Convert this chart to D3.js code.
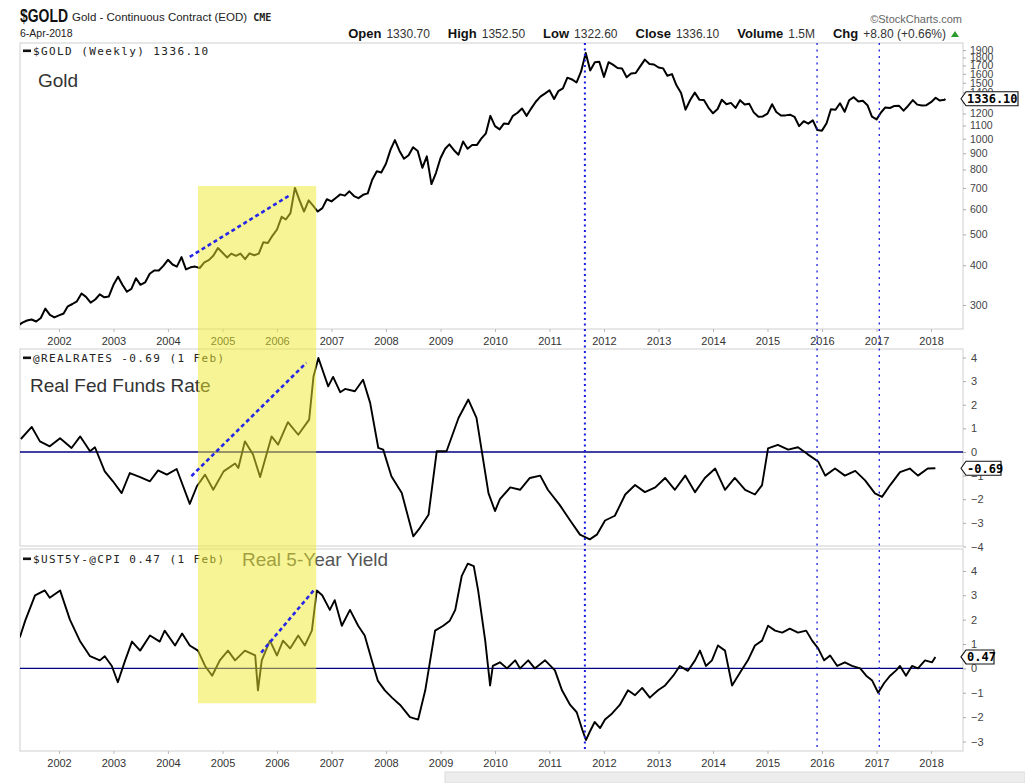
<!DOCTYPE html>
<html><head><meta charset="utf-8">
<script src="https://cdn.jsdelivr.net/npm/d3@7"></script>
<style>body{margin:0;background:#fff;} svg{display:block;font-family:"Liberation Sans",Arial,sans-serif;}</style>
</head><body><svg id="c" width="1025" height="783"></svg>
<script>
// ---------------- DATA ----------------
const yearTicks = [2002,2003,2004,2005,2006,2007,2008,2009,2010,2011,2012,2013,2014,2015,2016,2017,2018];
const goldTicks = [300,400,500,600,700,800,900,1000,1100,1200,1300,1400,1500,1600,1700,1800,1900];
const rateTicks = [-4,-3,-2,-1,0,1,2,3,4];
const yieldTicks = [-3,-2,-1,0,1,2,3,4];

// Gold, start-of-month values from April 2001 to April 2018
const goldStart = [2001, 3];
const goldMonthly = [
  258,264,268,270,266,273,292,279,274,
  278,282,297,302,308,326,318,305,312,324,317,319,
  347,368,348,330,337,364,347,353,376,385,385,398,
  416,402,396,424,388,394,396,392,408,415,429,453,
  438,423,435,428,435,418,436,430,435,472,470,495,
  518,568,557,583,700,640,590,640,615,590,605,645,
  635,652,668,662,683,660,650,666,673,743,790,783,
  834,924,990,915,865,887,940,915,810,880,720,780,
  870,930,960,920,890,980,930,955,955,1000,1040,1180,
  1095,1070,1116,1113,1180,1207,1245,1180,1246,1307,1357,1386,
  1421,1333,1411,1439,1556,1536,1502,1628,1860,1640,1740,1746,
  1565,1740,1710,1669,1664,1560,1604,1610,1692,1773,1719,1712,
  1675,1664,1578,1597,1472,1393,1234,1323,1396,1327,1323,1253,
  1202,1240,1326,1284,1296,1250,1322,1282,1287,1210,1172,1175,
  1199,1284,1213,1183,1184,1190,1172,1095,1135,1115,1142,1065,
  1060,1118,1238,1233,1293,1215,1321,1351,1309,1316,1275,1174,
  1150,1211,1254,1249,1268,1269,1225,1270,1322,1280,1271,1275,
  1303,1345,1318,1325
];
const goldLast = [2018.26, 1336.10];

// Real Fed Funds rate: [decimal year, value]
const realRates = [
  [2001.30,0.55],[2001.50,1.06],[2001.65,0.45],[2001.83,0.24],[2002.02,0.58],[2002.23,0.17],
  [2002.39,0.66],[2002.57,0.03],[2002.66,0.20],[2002.84,-0.82],[2002.99,-1.24],[2003.15,-1.74],
  [2003.30,-0.89],[2003.49,-1.06],[2003.67,-1.24],[2003.82,-0.78],[2003.98,-0.96],[2004.16,-0.72],
  [2004.40,-2.2],[2004.53,-1.45],[2004.68,-0.96],[2004.83,-1.6],[2005.02,-0.82],[2005.23,-0.49],
  [2005.29,-0.68],[2005.41,0.45],[2005.56,-0.11],[2005.69,-1.06],[2005.90,0.66],[2006.02,0.31],
  [2006.20,1.26],[2006.39,0.73],[2006.59,1.37],[2006.67,3.2],[2006.76,3.98],[2006.94,2.78],
  [2007.03,3.18],[2007.16,2.53],[2007.25,2.67],[2007.43,2.57],[2007.58,3.06],[2007.71,2.08],
  [2007.86,0.17],[2007.95,0.10],[2008.10,-1.03],[2008.29,-1.74],[2008.50,-3.57],[2008.62,-3.22],
  [2008.78,-2.66],[2008.93,0.03],[2009.11,0.03],[2009.33,1.44],[2009.51,2.22],[2009.66,1.44],
  [2009.88,-1.74],[2010.00,-2.5],[2010.09,-2.0],[2010.28,-1.5],[2010.46,-1.6],[2010.64,-1.1],
  [2010.83,-1.0],[2010.97,-1.6],[2011.19,-2.25],[2011.38,-2.9],[2011.56,-3.5],[2011.74,-3.7],
  [2011.87,-3.5],[2012.02,-2.9],[2012.20,-2.7],[2012.39,-1.8],[2012.57,-1.4],[2012.75,-1.7],
  [2012.94,-1.5],[2013.12,-1.1],[2013.30,-1.6],[2013.49,-1.0],[2013.67,-1.7],[2013.85,-1.1],
  [2014.04,-0.7],[2014.22,-1.6],[2014.40,-1.1],[2014.59,-1.6],[2014.77,-1.8],[2014.90,-1.4],
  [2015.01,0.15],[2015.19,0.3],[2015.38,0.1],[2015.56,0.2],[2015.74,-0.1],[2015.93,-0.4],
  [2016.06,-1.0],[2016.24,-0.7],[2016.42,-1.0],[2016.61,-0.8],[2016.79,-1.2],[2016.97,-1.75],
  [2017.10,-1.9],[2017.25,-1.4],[2017.43,-0.85],[2017.61,-0.7],[2017.76,-1.0],[2017.94,-0.7],
  [2018.08,-0.69]
];

// Real 5-year yield ($UST5Y - @CPI): [decimal year, value]
const realYield = [
  [2001.28,1.27],[2001.38,1.96],[2001.56,3.0],[2001.74,3.2],[2001.83,2.9],[2002.02,3.2],
  [2002.20,2.0],[2002.39,1.1],[2002.57,0.5],[2002.75,0.33],[2002.84,0.5],[2002.97,0.1],
  [2003.08,-0.57],[2003.21,0.3],[2003.34,1.1],[2003.49,0.73],[2003.67,1.35],[2003.85,1.1],
  [2003.94,1.55],[2004.13,0.94],[2004.26,1.43],[2004.40,0.94],[2004.55,0.73],[2004.68,0.1],
  [2004.81,-0.3],[2004.95,0.33],[2005.10,0.73],[2005.23,0.33],[2005.41,0.73],[2005.60,0.53],
  [2005.65,-0.9],[2005.72,0.33],[2005.87,1.14],[2006.00,0.53],[2006.11,1.14],[2006.24,0.82],
  [2006.39,1.35],[2006.51,0.94],[2006.64,1.55],[2006.73,3.2],[2006.83,3.0],[2006.97,2.4],
  [2007.06,2.8],[2007.19,1.75],[2007.34,2.4],[2007.49,1.75],[2007.61,1.35],[2007.74,0.33],
  [2007.85,-0.5],[2007.98,-0.9],[2008.11,-1.2],[2008.26,-1.5],[2008.44,-2.0],[2008.59,-2.1],
  [2008.72,-0.9],[2008.81,0.33],[2008.90,1.55],[2009.05,1.75],[2009.17,1.96],[2009.27,2.4],
  [2009.39,3.8],[2009.50,4.3],[2009.61,4.2],[2009.69,3.2],[2009.82,1.14],[2009.91,-0.7],
  [2009.96,0.1],[2010.09,0.25],[2010.22,0.0],[2010.37,0.33],[2010.46,0.0],[2010.61,0.33],
  [2010.73,0.0],[2010.92,0.33],[2011.10,-0.08],[2011.23,-0.9],[2011.38,-1.5],[2011.50,-1.8],
  [2011.60,-2.5],[2011.67,-2.94],[2011.74,-2.6],[2011.83,-2.2],[2011.93,-2.45],[2012.02,-2.1],
  [2012.15,-1.85],[2012.29,-1.5],[2012.44,-0.9],[2012.57,-1.1],[2012.70,-0.8],[2012.84,-1.2],
  [2012.99,-0.9],[2013.12,-0.7],[2013.27,-0.3],[2013.39,0.1],[2013.54,-0.1],[2013.67,0.33],
  [2013.76,0.73],[2013.87,0.1],[2013.98,0.33],[2014.09,0.94],[2014.22,0.73],[2014.35,-0.7],
  [2014.50,-0.16],[2014.64,0.33],[2014.77,0.94],[2014.90,1.14],[2015.01,1.75],[2015.14,1.55],
  [2015.27,1.47],[2015.41,1.63],[2015.56,1.47],[2015.71,1.55],[2015.82,1.14],[2015.93,0.82],
  [2016.04,0.33],[2016.15,0.53],[2016.28,0.1],[2016.42,0.25],[2016.55,0.1],[2016.70,0.0],
  [2016.81,-0.3],[2016.92,-0.5],[2017.03,-1.0],[2017.14,-0.6],[2017.25,-0.3],[2017.36,-0.08],
  [2017.43,0.1],[2017.54,-0.3],[2017.65,0.1],[2017.76,0.0],[2017.89,0.33],[2018.02,0.25],
  [2018.08,0.47]
];

// Annotations
const markerYears = [2011.65, 2015.91, 2017.05];
const highlightYears = [2004.55, 2006.72];
const highlightTopGold = 710, highlightBottomYield = -1.43;
const goldTrend = [[2004.40,425],[2006.24,665]];
const ratesTrend = [[2004.43,-1.02],[2006.54,3.78]];
const yieldTrend = [[2005.71,0.65],[2006.70,3.27]];

// ---------------- DRAW ----------------
function dy(y){const yr=Math.floor(y);const a=new Date(yr,0,1),b=new Date(yr+1,0,1);return new Date(+a+(y-yr)*(b-a));}
const svg = d3.select("#c");
const L=20, R=963;
const P1={top:43,bottom:329}, P2={top:349,bottom:546}, P3={top:549,bottom:751};

const x = d3.scaleTime().domain([dy(2001.284), dy(2018.587)]).range([L, R]);
const yG = d3.scaleLog().domain([252, 2000]).range([P1.bottom, P1.top]);
const yR = d3.scaleLinear().domain([-3.98, 4.36]).range([P2.bottom, P2.top]);
const yY = d3.scaleLinear().domain([-3.39, 4.9]).range([P3.bottom, P3.top]);

const defs = svg.append("defs");
[P1,P2,P3].forEach((p,i)=>{
  defs.append("clipPath").attr("id","clip"+i).append("rect")
    .attr("x",L).attr("y",p.top).attr("width",R-L).attr("height",p.bottom-p.top);
});

// bottom gray bar artifact
svg.append("rect").attr("x",445).attr("y",772).attr("width",580).attr("height",11)
  .attr("fill","#ededed").attr("stroke","#dcdcdc");

// panel frames
[P1,P2,P3].forEach(p=>{
  svg.append("rect").attr("x",L).attr("y",p.top).attr("width",R-L).attr("height",p.bottom-p.top)
    .attr("fill","none").attr("stroke","#cfcfcf").attr("stroke-width",1);
});

// zero lines
svg.append("line").attr("x1",L).attr("x2",R).attr("y1",yR(0)).attr("y2",yR(0))
  .attr("stroke","#000080").attr("stroke-width",1.3);
svg.append("line").attr("x1",L).attr("x2",R).attr("y1",yY(0)).attr("y2",yY(0))
  .attr("stroke","#000080").attr("stroke-width",1.3);

// data lines
const goldData = goldMonthly.map((v,i)=>[d3.timeMonth.offset(new Date(goldStart[0],goldStart[1],1), i), v]);
goldData.push([dy(goldLast[0]), goldLast[1]]);
svg.append("path").datum(goldData).attr("clip-path","url(#clip0)")
  .attr("d", d3.line().x(d=>x(d[0])).y(d=>yG(d[1])))
  .attr("fill","none").attr("stroke","#000").attr("stroke-width",2).attr("stroke-linejoin","round");
svg.append("path").datum(realRates).attr("clip-path","url(#clip1)")
  .attr("d", d3.line().x(d=>x(dy(d[0]))).y(d=>yR(d[1])))
  .attr("fill","none").attr("stroke","#000").attr("stroke-width",1.9).attr("stroke-linejoin","round");
svg.append("path").datum(realYield).attr("clip-path","url(#clip2)")
  .attr("d", d3.line().x(d=>x(dy(d[0]))).y(d=>yY(d[1])))
  .attr("fill","none").attr("stroke","#000").attr("stroke-width",1.9).attr("stroke-linejoin","round");

// right axes
function styleAxis(g, size){
  g.select(".domain").remove();
  g.selectAll(".tick line").attr("stroke","#aaa");
  g.selectAll(".tick text").attr("fill","#444").attr("font-size",size).attr("font-family","Liberation Sans, Arial, sans-serif");
}
svg.append("g").attr("transform",`translate(${R},0)`)
  .call(d3.axisRight(yG).tickValues(goldTicks).tickFormat(d3.format("d")).tickSize(3).tickPadding(4))
  .call(g=>styleAxis(g,10.5));
svg.append("g").attr("transform",`translate(${R},0)`)
  .call(d3.axisRight(yR).tickValues(rateTicks).tickFormat(d3.format("d")).tickSize(3).tickPadding(5))
  .call(g=>styleAxis(g,11));
svg.append("g").attr("transform",`translate(${R},0)`)
  .call(d3.axisRight(yY).tickValues(yieldTicks).tickFormat(d3.format("d")).tickSize(3).tickPadding(5))
  .call(g=>styleAxis(g,11));

// year axes
const yearDates = yearTicks.map(y=>new Date(y,0,1));
[P1.bottom, P3.bottom].forEach(yy=>{
  svg.append("g").attr("transform",`translate(0,${yy})`)
    .call(d3.axisBottom(x).tickValues(yearDates).tickFormat(d3.timeFormat("%Y")).tickSize(3).tickPadding(5))
    .call(g=>{g.select(".domain").remove();
      g.selectAll(".tick line").attr("stroke","#bbb");
      g.selectAll(".tick text").attr("fill","#333").attr("font-size",11).attr("font-family","Liberation Sans, Arial, sans-serif");});
});

// vertical dotted markers
markerYears.forEach((yv,i)=>{
  svg.append("line").attr("x1",x(dy(yv))).attr("x2",x(dy(yv))).attr("y1",P1.top).attr("y2",P3.bottom)
    .attr("stroke","#1c1cdc").attr("stroke-width", i===0?2:1.3)
    .attr("stroke-dasharray", i===0?"2,3.5":"2,4.5");
});

// labels in panels
svg.append("text").attr("x",38).attr("y",87).attr("font-size",19).attr("fill","#333").text("Gold");
svg.append("text").attr("x",30).attr("y",392).attr("font-size",19).attr("fill","#333").text("Real Fed Funds Rate");

// legends
function legend(yb, txt){
  svg.append("rect").attr("x",23).attr("y",yb-5.5).attr("width",8).attr("height",2.6).attr("fill","#111");
  svg.append("text").attr("x",33).attr("y",yb).attr("font-family","DejaVu Sans Mono, monospace")
    .attr("font-size",11).attr("letter-spacing",1.4).attr("fill","#222").text(txt);
}
legend(55, "$GOLD (Weekly) 1336.10");
legend(362, "@REALRATES -0.69 (1 Feb)");
legend(563, "$UST5Y-@CPI 0.47 (1 Feb)");
svg.append("text").attr("x",242).attr("y",566).attr("font-size",19).attr("fill","#555").text("Real 5-Year Yield");

// yellow highlight
svg.append("rect").attr("x",x(dy(highlightYears[0]))).attr("y",yG(highlightTopGold))
  .attr("width",x(dy(highlightYears[1]))-x(dy(highlightYears[0])))
  .attr("height",yY(highlightBottomYield)-yG(highlightTopGold))
  .attr("fill","#eeea2c").attr("fill-opacity",0.5);

// trend lines
const tl = [[goldTrend,yG],[ratesTrend,yR],[yieldTrend,yY]];
tl.forEach(([d,ys])=>{
  svg.append("line").attr("x1",x(dy(d[0][0]))).attr("y1",ys(d[0][1]))
    .attr("x2",x(dy(d[1][0]))).attr("y2",ys(d[1][1]))
    .attr("stroke","#2626e6").attr("stroke-width",2.6).attr("stroke-dasharray","4,3");
});

// price tags
function tag(yc, txt, w){
  const x0=R-2;
  svg.append("path").attr("d",`M${x0},${yc} L${x0+5},${yc-7} L${x0+w},${yc-7} L${x0+w},${yc+7} L${x0+5},${yc+7} Z`)
    .attr("fill","#fff").attr("stroke","#111").attr("stroke-width",1.1);
  svg.append("text").attr("x",x0+6).attr("y",yc+4.3).attr("font-family","DejaVu Sans Mono, monospace")
    .attr("font-weight","bold").attr("font-size",12).attr("fill","#000").text(txt);
}
tag(yG(goldLast[1]), "1336.10", 57);
tag(yR(realRates[realRates.length-1][1]), "-0.69", 40);
tag(yY(realYield[realYield.length-1][1]), "0.47", 33);

// header
svg.append("text").attr("x",20).attr("y",22).attr("font-size",18).attr("font-weight","bold")
  .attr("textLength",48).attr("lengthAdjust","spacingAndGlyphs").attr("fill","#111").text("$GOLD");
const t1 = svg.append("text").attr("x",72).attr("y",21).attr("font-size",11.5).attr("fill","#222");
t1.append("tspan").text("Gold - Continuous Contract (EOD)");
t1.append("tspan").attr("dx",6).attr("font-size",10).attr("font-weight","bold").attr("font-family","DejaVu Sans Mono, monospace").text("CME");
svg.append("text").attr("x",20).attr("y",37).attr("font-size",10.5).attr("fill","#222").text("6-Apr-2018");
svg.append("text").attr("x",962).attr("y",23).attr("text-anchor","end").attr("font-size",11).attr("fill","#666").text("\u00A9StockCharts.com");

const hdr = [["Open","1330.70"],["High","1352.50"],["Low","1322.60"],["Close","1336.10"],["Volume","1.5M"],["Chg","+8.80 (+0.66%)"]];
const t2 = svg.append("text").attr("x",946).attr("y",38).attr("text-anchor","end").attr("fill","#111");
hdr.forEach(([k,v],i)=>{
  t2.append("tspan").attr("dx", i===0?0:18).attr("font-weight","bold").attr("font-size",13).text(k);
  t2.append("tspan").attr("dx",5).attr("font-size",12).attr("fill","#333").text(v);
});
svg.append("path").attr("d","M951,37 L955,31 L959,37 Z").attr("fill","#2a9a2a");
</script>
</body></html>
